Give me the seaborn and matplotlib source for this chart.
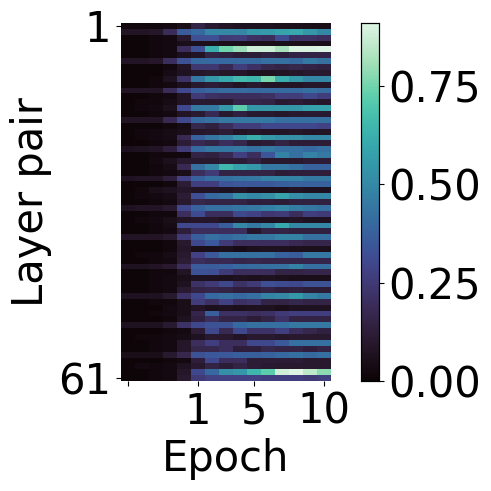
import numpy as np
import matplotlib
matplotlib.use("Agg")
import matplotlib.pyplot as plt
import seaborn as sns

x_tick_labels = ["", "1", "5", "10"]
x_tick_columns = [0, 5, 9, 14]
y_tick_labels = ["1", "61"]
y_tick_rows = [0, 60]

r01 = [.02,.02,.02,.03,.05,.15,.10,.08,.07,.07,.07,.06,.06,.05,.05]
r02 = [.08,.08,.09,.19,.36,.40,.50,.50,.50,.55,.56,.58,.60,.55,.50]
r03 = [.01,.01,.02,.03,.10,.32,.32,.25,.26,.21,.20,.31,.22,.22,.20]
r04 = [.01,.01,.02,.03,.05,.06,.06,.05,.05,.05,.05,.05,.05,.05,.05]
r05 = [.01,.01,.02,.03,.20,.33,.62,.75,.80,.88,.88,.82,.90,.90,.91]
r06 = [.01,.01,.02,.03,.06,.08,.15,.14,.12,.12,.14,.13,.15,.15,.15]
r07 = [.08,.08,.09,.20,.33,.40,.40,.40,.40,.40,.42,.42,.40,.45,.42]
r08 = [.01,.01,.01,.02,.08,.24,.24,.18,.26,.21,.17,.15,.17,.15,.14]
r09 = [.01,.01,.01,.04,.07,.09,.10,.09,.09,.07,.07,.08,.09,.10,.10]
r10 = [.01,.01,.02,.07,.22,.45,.55,.60,.66,.65,.76,.62,.55,.50,.50]
r11 = [.01,.01,.02,.03,.06,.10,.12,.10,.08,.10,.08,.08,.08,.09,.09]
r12 = [.08,.08,.08,.19,.30,.37,.39,.41,.41,.40,.40,.40,.40,.42,.41]
r13 = [.01,.01,.02,.03,.08,.25,.21,.20,.20,.20,.21,.26,.26,.30,.26]
r14 = [.01,.02,.02,.04,.08,.11,.10,.10,.16,.16,.15,.11,.12,.10,.09]
r15 = [.01,.02,.03,.06,.30,.45,.45,.55,.72,.55,.55,.55,.55,.58,.58]
r16 = [.01,.01,.02,.03,.08,.11,.18,.10,.14,.10,.10,.09,.10,.11,.11]
r17 = [.08,.08,.08,.18,.30,.40,.42,.45,.45,.45,.45,.42,.42,.42,.42]
r18 = [.01,.01,.01,.02,.04,.17,.14,.20,.26,.26,.30,.30,.30,.30,.28]
r19 = [.01,.02,.03,.04,.05,.09,.10,.12,.08,.09,.08,.08,.09,.08,.08]
r20 = [.01,.02,.03,.04,.18,.38,.44,.48,.55,.62,.55,.52,.52,.50,.50]
r21 = [.01,.01,.02,.03,.12,.18,.15,.20,.17,.10,.12,.15,.12,.12,.12]
r22 = [.06,.07,.08,.13,.25,.40,.44,.44,.45,.42,.45,.42,.42,.40,.42]
r23 = [.01,.01,.02,.02,.02,.15,.14,.18,.27,.20,.34,.48,.42,.48,.45]
r24 = [.01,.01,.03,.06,.10,.10,.10,.12,.12,.15,.10,.10,.10,.12,.12]
r25 = [.01,.01,.02,.04,.18,.42,.50,.65,.58,.55,.45,.45,.42,.38,.38]
r26 = [.01,.01,.02,.03,.05,.20,.25,.15,.15,.15,.15,.12,.13,.13,.13]
r27 = [.07,.08,.08,.13,.28,.38,.42,.42,.44,.45,.48,.48,.48,.45,.45]
r28 = [.01,.01,.01,.02,.12,.27,.27,.34,.35,.35,.35,.37,.38,.38,.38]
r29 = [.01,.02,.05,.07,.09,.08,.08,.07,.08,.06,.06,.06,.08,.07,.07]
r30 = [.01,.02,.03,.04,.12,.32,.40,.42,.52,.50,.52,.58,.52,.50,.50]
r31 = [.01,.01,.02,.03,.10,.17,.15,.15,.15,.13,.13,.12,.14,.14,.14]
r32 = [.07,.08,.08,.10,.30,.38,.42,.42,.44,.45,.47,.50,.46,.44,.42]
r33 = [.01,.01,.02,.02,.20,.31,.20,.20,.30,.28,.24,.25,.20,.27,.25]
r34 = [.01,.02,.03,.05,.08,.09,.09,.07,.08,.07,.07,.07,.08,.07,.07]
r35 = [.01,.01,.02,.04,.30,.30,.30,.37,.50,.45,.50,.60,.50,.50,.50]
r36 = [.01,.01,.02,.03,.13,.20,.20,.20,.20,.09,.15,.15,.14,.14,.14]
r37 = [.08,.08,.08,.10,.25,.37,.42,.40,.42,.45,.45,.48,.48,.42,.42]
r38 = [.01,.01,.01,.02,.10,.30,.35,.25,.20,.20,.20,.20,.18,.16,.16]
r39 = [.01,.01,.01,.02,.09,.05,.05,.06,.04,.06,.07,.07,.06,.06,.06]
r40 = [.01,.02,.02,.04,.10,.28,.35,.42,.42,.42,.42,.38,.36,.45,.45]
r41 = [.01,.01,.02,.03,.12,.20,.18,.18,.16,.17,.16,.16,.16,.16,.16]
r42 = [.07,.07,.08,.10,.20,.36,.36,.38,.40,.41,.42,.43,.48,.42,.42]
r43 = [.01,.01,.02,.02,.08,.33,.32,.25,.20,.20,.20,.15,.15,.16,.16]
r44 = [.01,.01,.02,.03,.05,.07,.07,.06,.07,.06,.07,.06,.05,.05,.05]
r45 = [.01,.01,.02,.03,.07,.22,.25,.30,.22,.25,.32,.31,.30,.33,.33]
r46 = [.01,.01,.02,.03,.11,.15,.16,.15,.13,.13,.15,.13,.14,.12,.12]
r47 = [.07,.07,.07,.10,.22,.30,.40,.42,.40,.42,.48,.50,.55,.48,.45]
r48 = [.01,.01,.02,.02,.05,.26,.21,.28,.21,.23,.15,.15,.17,.15,.15]
r49 = [.01,.01,.01,.03,.05,.08,.06,.07,.06,.07,.07,.05,.07,.07,.07]
r50 = [.01,.01,.02,.03,.05,.16,.37,.21,.21,.20,.21,.25,.27,.27,.27]
r51 = [.01,.01,.01,.02,.07,.14,.20,.15,.15,.12,.15,.22,.15,.15,.15]
r52 = [.07,.07,.07,.11,.22,.30,.33,.33,.40,.42,.42,.42,.45,.45,.45]
r53 = [.01,.01,.01,.02,.03,.12,.30,.18,.30,.22,.22,.27,.20,.17,.14]
r54 = [.01,.02,.02,.03,.04,.07,.10,.10,.08,.10,.10,.09,.10,.10,.10]
r55 = [.01,.01,.02,.03,.09,.20,.27,.20,.20,.30,.30,.35,.42,.42,.42]
r56 = [.01,.01,.02,.03,.09,.17,.17,.20,.13,.13,.17,.15,.15,.13,.15]
r57 = [.05,.05,.05,.10,.17,.33,.35,.35,.37,.37,.38,.40,.42,.40,.42]
r58 = [.01,.01,.01,.02,.03,.13,.30,.20,.20,.12,.12,.12,.12,.10,.10]
r59 = [.01,.03,.02,.03,.07,.10,.15,.12,.15,.12,.11,.10,.10,.10,.10]
r60 = [.01,.01,.02,.03,.09,.30,.40,.52,.55,.65,.72,.88,.91,.85,.78]
r61 = [.01,.01,.02,.03,.10,.25,.28,.28,.28,.28,.27,.27,.27,.25,.27]

rows = [r01,r02,r03,r04,r05,r06,r07,r08,r09,r10,r11,r12,r13,r14,r15,r16,
        r17,r18,r19,r20,r21,r22,r23,r24,r25,r26,r27,r28,r29,r30,r31,r32,
        r33,r34,r35,r36,r37,r38,r39,r40,r41,r42,r43,r44,r45,r46,r47,r48,
        r49,r50,r51,r52,r53,r54,r55,r56,r57,r58,r59,r60,r61]
values = np.array(rows)

W = 491.0
fig = plt.figure(figsize=(4.91, 4.91), dpi=100)
ax = fig.add_axes([120.5/W, 1-381/W, 210.5/W, 358/W])
cax = fig.add_axes([361/W, 1-381/W, 18/W, 358/W])
sns.heatmap(values, ax=ax, cbar_ax=cax, cmap="mako", vmin=0, vmax=0.91,
            xticklabels=False, yticklabels=False)
ax.set_xticks([c + 0.5 for c in x_tick_columns])
ax.set_xticklabels(x_tick_labels, fontsize=30, rotation=0)
ax.set_yticks([r + 0.5 for r in y_tick_rows])
ax.set_yticklabels(y_tick_labels, fontsize=30, rotation=0)
ax.set_xlabel("Epoch", fontsize=30, labelpad=4)
ax.set_ylabel("Layer pair", fontsize=30, labelpad=4)
ax.tick_params(length=3.5, width=0.8, pad=3.5)
cax.set_yticks([0, .25, .5, .75])
cax.set_yticklabels(["0.00", "0.25", "0.50", "0.75"], fontsize=30)
cax.tick_params(length=3.5, width=0.8, pad=3.5)
for s in cax.spines.values():
    s.set_visible(True)
    s.set_linewidth(0.8)
fig.savefig("out.png", dpi=100)
